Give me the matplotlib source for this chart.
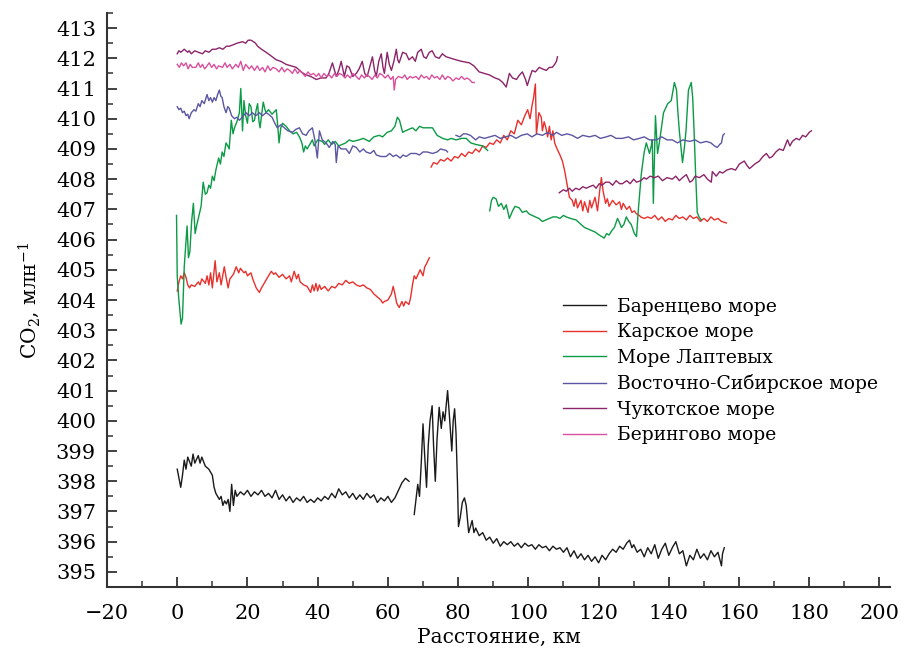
import numpy as np
import matplotlib
matplotlib.use('Agg')
import matplotlib.pyplot as plt
from matplotlib.ticker import MultipleLocator

nan = np.nan

# Баренцево море
barents_km = [0, 0.5, 1, 1.5, 2, 2.5, 3, 4, 4.5, 5, 6, 6.5, 7, 8, 9, 9.5, 10, 10.5, 11, 12, 12.5, 13, 13.5, 14, 14.5,
              15, 15.5, 16, 16.5, 17, 18, 19, 20, 21, 22, 23, 24, 25, 26, 27, 28, 29, 30, 31, 32, 33, 34, 35, 36, 37,
              38, 39, 40, 41, 42, 43, 44, 45, 46, 47, 48, 49, 50, 51, 52, 53, 54, 55, 56, 57, 58, 59, 60, 61, 62, 63,
              64, 65, 66, 66.7,
              67.5, 68, 68.5, 69, 69.5, 70, 70.5, 71, 71.5, 72, 72.6, 73, 73.5, 74, 74.6, 75.2, 75.7, 76.2, 77, 77.5,
              78.2, 78.6, 79, 79.4, 79.8, 80.1, 80.6, 81.2, 81.8, 82.3, 83, 83.5, 84, 84.5, 85, 86, 87, 88, 89, 90,
              91, 92, 93, 94, 95, 96, 97, 98, 99, 100, 101, 102, 103, 104, 105, 106, 107, 108, 109, 110, 111, 112,
              113, 114, 115, 116, 117, 118, 119, 120, 121, 122, 123, 124, 125, 126, 127, 128, 128.8, 129.5, 130,
              131, 132, 133, 134, 135, 136, 137, 138, 139, 140, 141, 142, 143, 144, 145, 146, 147, 148, 149, 150,
              151, 152, 153, 154, 155, 155.3, 155.8]
barents_co2 = [398.4, 398.1, 397.8, 398.2, 398.7, 398.4, 398.8, 398.5, 398.9, 398.6, 398.85, 398.6, 398.8, 398.5,
               398.4, 398.3, 398.2, 397.8, 397.6, 397.4, 397.5, 397.2, 397.35, 397.25, 397.4, 397.0, 397.9, 397.2,
               397.7, 397.5, 397.65, 397.55, 397.7, 397.5, 397.65, 397.55, 397.7, 397.5, 397.6, 397.45, 397.7, 397.4,
               397.55, 397.35, 397.5, 397.3, 397.45, 397.35, 397.5, 397.3, 397.4, 397.3, 397.45, 397.35, 397.5,
               397.4, 397.6, 397.45, 397.75, 397.55, 397.65, 397.45, 397.6, 397.4, 397.55, 397.4, 397.6, 397.45,
               397.55, 397.3, 397.45, 397.35, 397.5, 397.3, 397.45, 397.7, 397.95, 398.1, 398.0, nan,
               396.9, 397.4, 397.9, 397.5, 398.6, 399.9, 398.8, 397.8, 399.2, 400.0, 400.5, 399.2, 398.0, 399.4,
               400.45, 399.75, 400.3, 400.0, 401.0, 400.2, 399.0, 400.0, 400.4, 399.6, 398.0, 396.5, 396.8, 397.3,
               397.45, 397.2, 396.3, 396.5, 396.7, 396.3, 396.45, 396.2, 396.3, 396.05, 396.15, 395.95, 396.1,
               395.85, 396.0, 395.9, 396.0, 395.85, 395.95, 395.8, 395.95, 395.85, 395.9, 395.75, 395.9, 395.8,
               395.85, 395.7, 395.85, 395.75, 395.8, 395.65, 395.8, 395.5, 395.7, 395.45, 395.6, 395.4, 395.55,
               395.35, 395.5, 395.3, 395.55, 395.4, 395.6, 395.75, 395.65, 395.85, 395.75, 395.95, 396.05, 395.8,
               395.9, 395.65, 395.75, 395.5, 395.8, 395.6, 395.9, 395.45, 395.75, 395.95, 395.55, 395.8, 396.0,
               395.6, 395.7, 395.2, 395.55, 395.4, 395.75, 395.45, 395.6, 395.4, 395.7, 395.5, 395.65, 395.2, 395.6,
               395.8]

# Карское море
kara_km = [0, 0.5, 1, 1.5, 2, 2.5, 3, 3.5, 4, 5, 6, 6.5, 7, 8, 8.5, 9, 9.5, 10, 10.8, 11.3, 12, 12.5, 13.4, 14, 14.5,
           15, 16, 16.8, 17.5, 18, 19, 19.5, 20, 21, 21.5, 22, 22.5, 23.4, 24, 25, 26, 26.8, 27.5, 28, 29, 30, 31, 32,
           32.5, 33.3, 34, 34.5, 35, 36, 37, 38, 38.5, 39, 39.5, 40, 40.5, 41, 42, 43, 44, 45, 46, 47, 48, 49, 50, 51,
           52, 53, 54, 55, 56, 57, 58, 58.5, 59, 60, 61, 61.5, 62, 62.5, 63.2, 64, 64.5, 65, 66, 66.5, 67, 67.5, 68,
           69.2, 70, 70.5, 71, 71.8, 72.0,
           72.3, 73, 74, 75, 76, 77, 78, 79, 80, 81, 82, 83, 84, 85, 86, 87, 88, 89, 90, 91, 92, 93, 94, 95, 96, 97,
           98, 99, 99.8, 100.5, 101, 101.5, 102, 102.3, 103, 103.7, 104, 104.5, 105, 105.5, 106, 106.5, 107, 107.5,
           108, 109, 109.7, 110.3, 111, 111.7, 112.5, 113, 113.5, 114, 115, 115.5, 116, 117, 117.5, 118, 119, 119.7,
           120.3, 120.8, 121.3, 122, 122.5, 123, 124, 125, 126, 126.5, 127, 128, 128.8, 129.5, 130.2, 130.8, 131.6,
           132, 133, 134, 135, 136, 137, 138, 139, 140, 141, 142, 143, 144, 145, 146, 147, 148, 149, 150, 151, 152,
           153, 154, 155, 156.4]
kara_co2 = [404.3, 404.6, 404.8, 404.7, 404.9, 404.75, 404.5, 404.4, 404.5, 404.45, 404.6, 404.5, 404.7, 404.55,
            404.8, 404.5, 404.9, 404.4, 405.3, 404.6, 404.9, 404.5, 405.1, 404.7, 404.4, 404.7, 404.85, 405.1, 404.9,
            405.05, 404.9, 404.95, 404.8, 404.9, 404.7, 404.55, 404.4, 404.25, 404.4, 404.6, 404.8, 404.95, 404.85,
            404.9, 404.75, 404.85, 404.7, 404.8, 404.6, 404.95, 404.7, 404.85, 404.6, 404.5, 404.45, 404.25, 404.5,
            404.3, 404.55, 404.3, 404.5, 404.35, 404.45, 404.3, 404.45, 404.4, 404.55, 404.5, 404.65, 404.55, 404.6,
            404.5, 404.45, 404.5, 404.4, 404.35, 404.2, 404.1, 404.0, 403.9, 403.95, 404.0, 404.2, 404.45, 404.2,
            403.9, 403.75, 403.95, 403.8, 403.95, 403.85, 404.1, 404.5, 404.8, 404.7, 405.0, 404.8, 405.1, 405.2,
            405.4, nan,
            408.4, 408.55, 408.5, 408.65, 408.6, 408.7, 408.6, 408.75, 408.7, 408.85, 408.75, 408.9, 408.85, 409.0,
            408.9, 409.1, 409.05, 409.2, 409.15, 409.3, 409.2, 409.45, 409.3, 409.6, 409.5, 409.95, 409.8, 410.1,
            410.3, 410.0, 410.4, 410.7, 411.15, 409.5, 410.2, 410.05, 409.6, 409.9, 409.7, 409.4, 409.75, 409.3,
            409.6, 409.2, 409.05, 408.8, 408.6, 408.3, 407.85, 407.4, 407.3, 407.1, 407.35, 407.05, 407.3, 406.95,
            407.25, 406.9, 407.3, 407.05, 407.4, 406.95, 407.6, 408.05, 407.6, 407.2, 407.35, 407.1, 407.3, 407.15,
            407.25, 407.0, 407.2, 407.0, 407.1, 406.9, 406.95, 406.85, 406.8, 406.75, 406.7, 406.75, 406.7, 406.8,
            406.65, 406.75, 406.6, 406.7, 406.65, 406.8, 406.7, 406.75, 406.65, 406.8, 406.7, 406.75, 406.6, 406.7,
            406.6, 406.75, 406.65, 406.7, 406.6, 406.55]

# Море Лаптевых
laptev_km = [-0.2, 0.0, 0.4, 0.8, 1.1, 1.5, 2, 2.8, 3.2, 3.6, 4.1, 4.6, 5.1, 5.6, 6.2, 6.8, 7.4, 8, 8.5, 9, 9.5, 10,
             10.5, 11, 11.8, 12.3, 12.8, 13.3, 13.9, 14.4, 14.8, 15.4, 15.9, 16.3, 17, 17.7, 18.1, 18.6, 19, 19.5,
             20, 20.5, 21, 21.5, 22, 22.5, 22.9, 23.3, 23.6, 24, 24.5, 25, 25.3, 26, 27, 28.2, 28.6, 29, 29.5, 30,
             31, 32, 33, 34, 34.8, 35.5, 36, 36.5, 37, 38, 38.5, 39, 40, 41.3, 42, 43, 44, 45, 46, 47, 48, 49, 50,
             51.8, 53, 54.7, 56, 57.5, 58.5, 59.8, 61, 62, 62.7, 63.3, 64.2, 65, 66, 67, 68, 69, 70, 71.3, 72.7, 73.5,
             74, 75.6, 77, 78, 79.4, 81, 82.3, 83.6, 85, 87, 88.4, 88.7,
             89, 89.5, 90, 90.8, 91.5, 92.3, 93, 93.7, 94.2, 94.6, 95.5, 96.2, 97.4, 98.3, 99.4, 100.2, 101.1, 102,
             103, 104, 105, 106, 107, 108, 109, 110, 110.8, 112, 113.6, 115, 116, 117, 118, 119, 120.2, 121.6, 122.3,
             123, 123.8, 124.5, 125.4, 126, 126.5, 127.2, 127.9, 128.6, 129.3, 130.2, 130.8, 131.4, 132.2, 133, 133.6,
             134.5, 135.0, 135.3, 135.6, 136.2, 136.8, 137.3, 137.9, 138.5, 139.7, 140.7, 141.6, 142.2, 142.6, 143,
             143.9, 144.4, 144.9, 145.6, 146.4, 146.8, 147.2, 147.6, 148.1, 148.6, 149.3]
laptev_co2 = [406.8, 404.8, 404.1, 403.6, 403.2, 403.4, 405.1, 406.45, 405.4, 405.6, 406.6, 407.2, 406.2, 406.5,
              406.8, 407.1, 407.9, 407.5, 407.55, 407.8, 407.7, 408.1, 407.95, 408.3, 408.7, 408.5, 408.9, 408.75,
              409.2, 409.1, 409.0, 409.95, 409.5, 409.7, 409.9, 410.2, 411.0, 409.6, 410.6, 410.1, 409.85, 410.5,
              410.4, 409.9, 409.95, 410.3, 410.5, 409.9, 409.7, 410.1, 410.55, 410.3, 410.2, 410.3, 410.15, 410.3,
              409.8, 409.2, 409.7, 409.85, 409.75, 409.6, 409.5, 409.55, 409.4, 409.2, 408.9, 409.1, 409.0, 409.2,
              409.3, 409.1, 409.3, 409.25, 409.15, 409.3, 409.15, 409.25, 409.1, 409.15, 409.2, 409.3, 409.25, 409.3,
              409.35, 409.25, 409.4, 409.45, 409.4, 409.55, 409.6, 409.75, 410.05, 409.95, 409.55, 409.6, 409.65,
              409.7, 409.6, 409.75, 409.7, 409.7, 409.7, 409.55, 409.45, 409.35, 409.3, 409.35, 409.3, 409.35,
              409.35, 409.2, 409.15, 409.1, 408.95, nan,
              406.95, 407.3, 407.4, 407.35, 407.1, 407.2, 407.0, 407.15, 406.9, 406.7, 406.95, 407.1, 407.05, 406.9,
              406.95, 406.85, 406.8, 406.75, 406.7, 406.6, 406.65, 406.7, 406.75, 406.75, 406.7, 406.8, 406.75,
              406.7, 406.65, 406.5, 406.4, 406.35, 406.3, 406.25, 406.15, 406.05, 406.2, 406.15, 406.3, 406.4, 406.7,
              406.55, 406.4, 406.5, 406.75, 406.6, 406.5, 406.2, 406.1, 407.1, 408.2, 408.9, 409.2, 408.85, 409.1,
              409.3, 407.2, 410.1, 408.85, 409.2, 409.7, 410.2, 410.5, 410.6, 411.2, 410.95, 410.2, 409.6, 408.55,
              409.0, 409.6, 410.95, 411.2, 410.7, 409.6, 408.3, 406.9, 406.75, 406.65]

# Восточно-Сибирское море
esib_km = [0, 0.5, 1, 1.5, 2, 2.5, 3, 3.4, 4, 4.8, 5.3, 6, 6.5, 7, 7.7, 8.5, 9, 9.5, 10, 10.5, 11, 11.5, 12, 12.4,
           12.8, 13.3, 13.9, 14.4, 14.8, 15.5, 16.3, 17, 17.7, 18.5, 19.6, 20.5, 21.4, 22.4, 23.4, 24.3, 25.3, 26, 27,
           27.8, 28.5, 29.5, 30.5, 31.5, 32.8, 33.8, 34.8, 35.7, 36.7, 37.5, 38.5, 39.2, 39.9, 40.5, 41.3, 42.4, 43.3,
           44.3, 45, 45.3, 45.8, 46.7, 48.1, 49, 50, 51, 52, 53, 53.8, 55, 56, 56.7, 58, 59.5, 60.5, 61.5, 62.4, 63.5,
           64.3, 65.2, 66.5, 68, 69, 70, 71.2, 72.7, 74, 75, 76.6, 77, 78.2,
           79.4, 80.5, 81.5, 82.3, 83.5, 85, 86, 87.5, 89, 90.5, 92, 93.5, 95, 96.5, 98, 99.7, 101, 102.5, 104, 105.5,
           107, 108, 109.5, 111, 112.5, 114, 115.5, 117.4, 119, 120.5, 122.2, 123.5, 125, 126.8, 128.5, 130, 131.6,
           133, 134.5, 136.5, 138, 139.5, 141, 142.5, 144, 145.9, 147.5, 149, 150.7, 152, 153, 153.8, 154.5, 155,
           155.4, 155.8]
esib_co2 = [410.4, 410.3, 410.35, 410.2, 410.25, 410.1, 410.15, 410.0, 410.2, 410.3, 410.25, 410.5, 410.4, 410.6,
            410.5, 410.8, 410.6, 410.7, 410.55, 410.7, 410.6, 410.8, 410.95, 410.75, 410.7, 410.4, 410.2, 410.4,
            410.35, 410.1, 410.0, 410.05, 409.95, 410.05, 410.2, 410.1, 410.2, 410.1, 410.2, 410.1, 410.2, 410.15,
            410.05, 409.85, 409.7, 409.8, 409.7, 409.6, 409.55, 409.65, 409.7, 409.5, 409.45, 409.6, 409.7, 409.3,
            408.7, 409.6, 409.3, 409.2, 409.05, 409.25, 409.15, 408.55, 409.1, 409.0, 409.0, 408.85, 409.1, 409.05,
            408.9, 409.0, 408.9, 408.85, 408.95, 408.8, 408.75, 408.75, 408.85, 408.75, 408.8, 408.7, 408.8, 408.75,
            408.85, 408.85, 408.8, 408.9, 408.9, 408.85, 408.9, 409.0, 408.95, 408.9, nan,
            409.45, 409.4, 409.5, 409.5, 409.45, 409.3, 409.4, 409.35, 409.4, 409.45, 409.35, 409.4, 409.45, 409.35,
            409.45, 409.5, 409.4, 409.5, 409.45, 409.55, 409.45, 409.55, 409.45, 409.5, 409.45, 409.35, 409.45,
            409.4, 409.45, 409.35, 409.4, 409.45, 409.35, 409.35, 409.4, 409.3, 409.35, 409.4, 409.3, 409.3, 409.4,
            409.3, 409.3, 409.2, 409.3, 409.25, 409.3, 409.2, 409.25, 409.2, 409.1, 409.05, 409.15, 409.2, 409.45,
            409.5]

# Чукотское море
chuk_km = [0, 0.5, 1, 2, 3, 3.4, 4, 5, 6, 7.2, 8, 9, 10, 11, 12, 13, 14, 14.8, 16, 17, 18.6, 19.5, 20.2, 21, 21.7,
           22.3, 22.9, 24, 25.3, 26.5, 28.2, 29.5, 31, 32.5, 33.9, 35.3, 36.7, 38, 39.6, 41, 42.4, 43.2, 44.2, 45.3,
           46, 46.7, 47.6, 48.3, 49, 50, 51, 51.8, 52.7, 53.4, 54.1, 55.6, 56.2, 56.7, 57.4, 58.1, 58.6, 59, 59.8,
           60.4, 61, 61.7, 62.4, 62.8, 63.2, 64.2, 65.2, 66, 67, 67.8, 68.5, 69.5, 70.2, 70.9, 71.8, 72.6, 73.5, 74.6,
           75.5, 76.6, 78, 79.4, 81, 83.2, 84.5, 86, 87.5, 88.9, 90.5, 91.7, 92.7, 93.7, 94.2, 94.6, 95.5, 96.6, 97.5,
           98.3, 99.2, 99.7, 100.5, 101.1, 102, 103.1, 104, 105.1, 106, 106.8, 107.5, 108, 108.3, 108.5,
           108.8, 110, 110.8, 111.7, 112.5, 113.5, 114.5, 115.5, 116.5, 117.4, 118.5, 119.3, 120.2, 121, 122, 123,
           124, 125, 126, 126.8, 128, 129, 130, 130.8, 132, 133, 133.6, 134.7, 135.9, 137, 138.2, 139.5, 141, 142,
           143, 143.9, 145, 146, 146.7, 147.5, 148.7, 150, 151, 152.1, 152.4, 153.5, 154.5, 155.3, 156.5, 157.8, 159,
           160.1, 161.5, 162.3, 163, 164.5, 165.8, 166.8, 167.8, 168.7, 169.5, 170.5, 171.5, 172.6, 173.8, 174.5,
           175.2, 176.3, 177.2, 178.1, 179, 180, 180.6]
chuk_co2 = [412.15, 412.25, 412.2, 412.3, 412.2, 412.25, 412.15, 412.25, 412.2, 412.15, 412.25, 412.2, 412.3, 412.3,
            412.35, 412.3, 412.4, 412.4, 412.45, 412.5, 412.55, 412.5, 412.6, 412.6, 412.55, 412.5, 412.4, 412.3,
            412.2, 412.1, 411.95, 411.9, 411.8, 411.75, 411.7, 411.55, 411.45, 411.4, 411.3, 411.35, 411.35, 411.5,
            411.85, 411.4, 411.6, 411.9, 411.4, 411.75, 411.7, 411.4, 411.5, 411.65, 411.9, 411.5, 411.4, 412.05,
            411.6, 411.4, 411.9, 412.15, 411.7, 411.5, 412.2, 411.8, 411.6, 411.9, 412.3, 411.95, 411.85, 412.2,
            412.15, 411.95, 412.05, 411.9, 412.2, 412.3, 412.05, 412.0, 412.2, 412.25, 412.05, 412.0, 412.15, 412.05,
            412.0, 411.95, 411.9, 411.85, 411.75, 411.55, 411.5, 411.45, 411.35, 411.3, 411.2, 411.05, 411.3, 411.5,
            411.35, 411.3, 411.45, 411.55, 411.3, 411.1, 411.4, 411.6, 411.55, 411.7, 411.65, 411.6, 411.7, 411.7,
            411.8, 411.9, 412.05, nan,
            407.55, 407.65, 407.6, 407.7, 407.6, 407.7, 407.65, 407.75, 407.7, 407.75, 407.8, 407.7, 407.85, 407.8,
            407.9, 407.9, 407.8, 407.95, 407.85, 407.85, 407.95, 407.85, 408.0, 407.9, 407.95, 408.05, 408.0, 408.1,
            408.05, 408.1, 407.95, 408.05, 408.0, 408.1, 407.95, 408.05, 408.15, 407.9, 407.95, 408.1, 408.05, 408.15,
            408.0, 407.9, 408.25, 408.1, 408.25, 408.2, 408.3, 408.35, 408.3, 408.5, 408.6, 408.45, 408.35, 408.5,
            408.6, 408.75, 408.85, 408.7, 408.75, 408.9, 409.0, 408.95, 409.3, 409.1, 409.25, 409.35, 409.3, 409.45,
            409.4, 409.55, 409.6]

# Берингово море
bering_km = [0, 0.6, 1.2, 1.8, 2.5, 3.1, 3.7, 4.3, 5.3, 6, 6.6, 7.2, 7.8, 8.5, 9.1, 9.8, 10.5, 11.2, 11.8, 12.9, 13.6,
             14.2, 15, 15.7, 16.7, 17.4, 18.1, 18.8, 19.5, 20.5, 21.2, 22, 22.8, 23.5, 24.3, 25, 25.8, 26.5, 27.3,
             28.2, 29, 29.8, 30.5, 31.3, 32, 32.8, 33.5, 34.3, 35, 35.7, 36.5, 37.2, 38, 38.8, 39.6, 40.3, 41, 41.8,
             42.5, 43.3, 44, 44.8, 45.5, 46.2, 47, 47.8, 48.5, 49.3, 50, 51, 51.8, 52.5, 53.3, 54, 54.7, 55.5, 56.3,
             57, 57.7, 58.4, 59.2, 60, 60.8, 61.5, 61.8, 62.2, 63, 64.1, 64.8, 65.5, 66.3, 67, 68, 68.8, 69.5, 70.3,
             71, 71.8, 72.5, 73.3, 74, 74.8, 75.5, 76.3, 77, 77.8, 78.5, 79.4, 80.2, 81, 81.8, 82.5, 83.2, 84, 84.6]
bering_co2 = [411.8, 411.7, 411.85, 411.75, 411.85, 411.65, 411.8, 411.7, 411.7, 411.85, 411.7, 411.8, 411.65,
              411.75, 411.85, 411.7, 411.8, 411.65, 411.75, 411.7, 411.85, 411.7, 411.8, 411.65, 411.8, 411.7, 411.9,
              411.6, 411.8, 411.65, 411.75, 411.6, 411.75, 411.6, 411.7, 411.55, 411.75, 411.6, 411.7, 411.65, 411.55,
              411.7, 411.55, 411.65, 411.6, 411.5, 411.65, 411.5, 411.6, 411.5, 411.4, 411.55, 411.45, 411.5, 411.4,
              411.5, 411.35, 411.5, 411.4, 411.45, 411.35, 411.5, 411.4, 411.5, 411.45, 411.35, 411.45, 411.35,
              411.5, 411.4, 411.3, 411.45, 411.35, 411.45, 411.4, 411.3, 411.45, 411.35, 411.5, 411.45, 411.35,
              411.45, 411.3, 411.4, 410.95, 411.3, 411.4, 411.35, 411.45, 411.3, 411.4, 411.35, 411.4, 411.3, 411.45,
              411.35, 411.4, 411.3, 411.45, 411.35, 411.4, 411.3, 411.45, 411.3, 411.4, 411.35, 411.25, 411.35,
              411.3, 411.4, 411.3, 411.35, 411.3, 411.2, 411.2]

series = [
    ("Баренцево море", barents_km, barents_co2, "#1a1a1a"),
    ("Карское море", kara_km, kara_co2, "#e8302c"),
    ("Море Лаптевых", laptev_km, laptev_co2, "#0b9a46"),
    ("Восточно-Сибирское море", esib_km, esib_co2, "#5b56a2"),
    ("Чукотское море", chuk_km, chuk_co2, "#8b2468"),
    ("Берингово море", bering_km, bering_co2, "#d9509e"),
]

plt.rcParams['font.family'] = ['DejaVu Serif']
plt.rcParams['mathtext.fontset'] = 'dejavuserif'

fig = plt.figure(figsize=(9.09, 6.55), dpi=100)
ax = fig.add_axes([107 / 909, 1 - 587 / 655, 783 / 909, 574 / 655])

for name, km, co2, col in series:
    ax.plot(km, co2, color=col, lw=1.0, label=name)

ax.set_xlim(-20, 203)
ax.set_ylim(394.5, 413.5)
ax.xaxis.set_minor_locator(MultipleLocator(10))
ax.yaxis.set_major_locator(MultipleLocator(1))
ax.yaxis.set_minor_locator(MultipleLocator(0.5))
ax.set_xticks(range(-20, 201, 20))
ax.tick_params(which='major', direction='in', length=7, width=1.3, labelsize=15, color='#333333', pad=8)
ax.tick_params(which='minor', direction='in', length=4, width=1.1, color='#333333')
ax.tick_params(axis='x', pad=12)

for s in ['top', 'right']:
    ax.spines[s].set_visible(False)
for s in ['left', 'bottom']:
    ax.spines[s].set_linewidth(1.5)
    ax.spines[s].set_color('#333333')

ax.set_xlabel("Расстояние, км", fontsize=14.5, labelpad=4)
ax.set_ylabel("CO$_2$, млн$^{-1}$", fontsize=14.5, labelpad=10)

ax.legend(loc='upper left', bbox_to_anchor=(0.57, 0.52), frameon=False, fontsize=13.5,
          handlelength=2.3, handletextpad=0.6, labelspacing=0.4, borderpad=0)

fig.savefig("out.png", dpi=100)
